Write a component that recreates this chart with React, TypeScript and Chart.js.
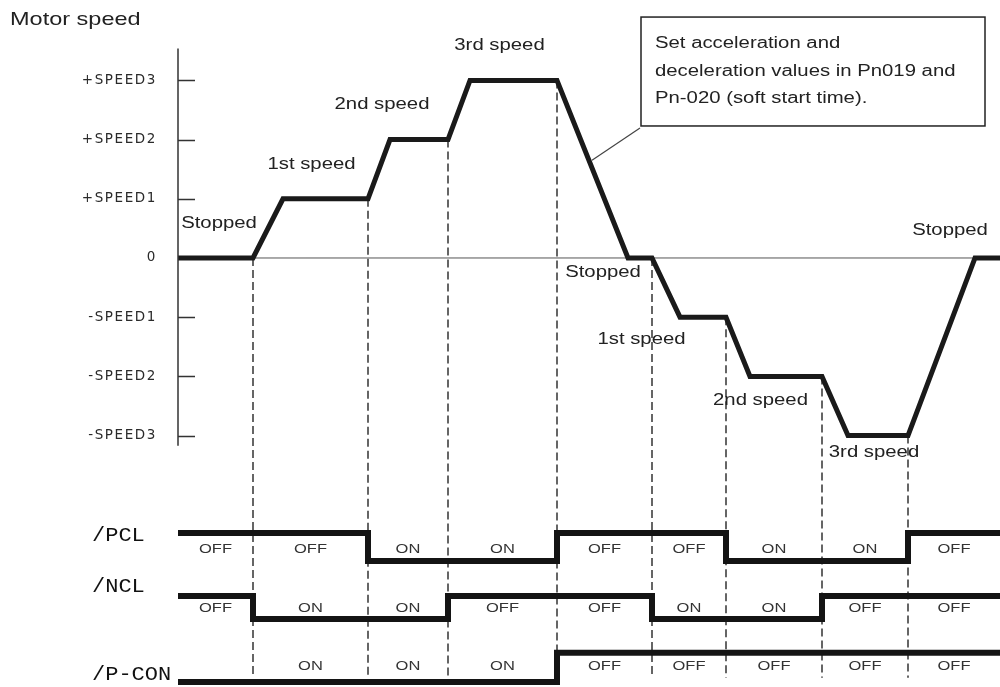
import React, { useEffect, useRef } from 'react';
import { Chart, registerables } from 'chart.js';

Chart.register(...registerables);

// ---------- data ----------
const speedTickValues = [-3, -2, -1, 0, 1, 2, 3];
const speedTickLabels = ['-SPEED3', '-SPEED2', '-SPEED1', '0', '+SPEED1', '+SPEED2', '+SPEED3'];

// motor speed profile (time units, speed steps)
const speedTimes = [0, 7.5, 10.5, 19, 21.2, 27, 29.2, 37.9, 45, 47.4, 50.2, 54.8, 57.2, 64.4, 67, 73, 79.7, 82.2];
const speedValues = [0, 0, 1, 1, 2, 2, 3, 3, 0, 0, -1, -1, -2, -2, -3, -3, 0, 0];

// switching instants (dashed lines) and the speed where each dashed line begins
const switchTimes = [7.5, 19, 27, 37.9, 47.4, 54.8, 64.4, 73];
const switchSpeeds = [0, 1, 2, 3, 0, -1, -2, -3];
const startTime = 0;
const endTime = 82.2;

// input signal states per segment
const signalNames = ['/PCL', '/NCL', '/P-CON'];
const pclStates = ['OFF', 'OFF', 'ON', 'ON', 'OFF', 'OFF', 'ON', 'ON', 'OFF'];
const nclStates = ['OFF', 'ON', 'ON', 'OFF', 'OFF', 'ON', 'ON', 'OFF', 'OFF'];
const pconStates = ['', 'ON', 'ON', 'ON', 'OFF', 'OFF', 'OFF', 'OFF', 'OFF'];
const signalHighLevels = [5.32, 3.07, 1.04];
const signalLowLevels = [4.32, 2.25, 0];

// phase labels on the speed plot
const phaseLabels = ['Stopped', '1st speed', '2nd speed', '3rd speed', 'Stopped', '1st speed', '2nd speed', '3rd speed', 'Stopped'];

const noteLines = ['Set acceleration and', 'deceleration values in Pn019 and', 'Pn-020 (soft start time).'];

// ---------- layout of annotations (in scale units) ----------
const phaseLabelAnchors = [
  [4.1, 0.574], [13.35, 1.571], [20.4, 2.584], [32.15, 3.581], [42.5, -0.253],
  [46.35, -1.385], [58.25, -2.416], [69.6, -3.294], [77.2, 0.456],
];
const signalLabelLevels = [4.75, 2.61, 0.57];
const signalNameLevels = [5.21, 3.39, 0.25];

const SX = 1.27; // horizontal text stretch of the original drawing
const SANS = '"Liberation Sans", Arial, sans-serif';

function drawText(ctx: CanvasRenderingContext2D, text: string, x: number, y: number, font: string, align: CanvasTextAlign, sx: number, color = '#222') {
  ctx.save();
  ctx.letterSpacing = '0px';
  ctx.font = font;
  ctx.fillStyle = color;
  ctx.textBaseline = 'middle';
  ctx.textAlign = align;
  ctx.translate(x, y);
  ctx.scale(sx, 1);
  ctx.fillText(text, 0, 0);
  ctx.restore();
}

const segBounds = [startTime, ...switchTimes, endTime];
const signalStates = [pclStates, nclStates, pconStates];

function signalPoints(states: string[], hi: number, lo: number) {
  const lvl = (s: string) => (s === 'OFF' ? hi : lo);
  const pts = states.map((s, i) => ({ x: segBounds[i], y: lvl(s) }));
  pts.push({ x: endTime, y: lvl(states[states.length - 1]) });
  return pts;
}

const diagramPlugin = {
  id: 'diagram',
  beforeDraw(chart: any) {
    chart.ctx.letterSpacing = '1.6px';
  },
  beforeDatasetsDraw(chart: any) {
    const ctx = chart.ctx as CanvasRenderingContext2D;
    const xs = chart.scales.x;
    const ys = chart.scales.ys;
    signalStates.forEach((states, k) => {
      states.forEach((s, i) => {
        if (!s) return;
        const cx = xs.getPixelForValue((segBounds[i] + segBounds[i + 1]) / 2);
        drawText(ctx, s, cx, ys.getPixelForValue(signalLabelLevels[k]), `13px ${SANS}`, 'center', SX, '#333');
      });
    });
  },
  afterDatasetsDraw(chart: any) {
    const ctx = chart.ctx as CanvasRenderingContext2D;
    const xs = chart.scales.x;
    const y = chart.scales.y;
    const ys = chart.scales.ys;
    const left = chart.chartArea.left;

    // speed axis line and inner tick stubs
    ctx.save();
    ctx.strokeStyle = '#333';
    ctx.lineWidth = 1.5;
    ctx.beginPath();
    ctx.moveTo(left, y.getPixelForValue(3.54));
    ctx.lineTo(left, y.getPixelForValue(-3.17));
    speedTickValues.forEach((v) => {
      if (v === 0) return;
      const py = Math.round(y.getPixelForValue(v)) + 0.5;
      ctx.moveTo(left, py);
      ctx.lineTo(left + 17, py);
    });
    ctx.stroke();
    ctx.restore();

    // title
    drawText(ctx, 'Motor speed', xs.getPixelForValue(-16.8), y.getPixelForValue(4.02), `18.5px ${SANS}`, 'left', SX);

    // phase labels
    phaseLabels.forEach((t, i) => {
      const [tx, ty] = phaseLabelAnchors[i];
      drawText(ctx, t, xs.getPixelForValue(tx), y.getPixelForValue(ty), `16px ${SANS}`, 'center', SX);
    });

    // signal names
    signalNames.forEach((n, i) => {
      drawText(ctx, n, xs.getPixelForValue(-8.6), ys.getPixelForValue(signalNameLevels[i]), '20px "Liberation Mono", monospace', 'left', 1.1, '#111');
    });

    // note box with leader
    const bx0 = xs.getPixelForValue(46.3), bx1 = xs.getPixelForValue(80.7);
    const by0 = y.getPixelForValue(4.07), by1 = y.getPixelForValue(2.23);
    ctx.save();
    ctx.fillStyle = '#fff';
    ctx.strokeStyle = '#222';
    ctx.lineWidth = 1.5;
    ctx.fillRect(bx0, by0, bx1 - bx0, by1 - by0);
    ctx.strokeRect(bx0, by0, bx1 - bx0, by1 - by0);
    ctx.lineWidth = 1.2;
    ctx.strokeStyle = '#444';
    ctx.beginPath();
    ctx.moveTo(xs.getPixelForValue(46.2), y.getPixelForValue(2.195));
    ctx.lineTo(xs.getPixelForValue(41.4), y.getPixelForValue(1.65));
    ctx.stroke();
    ctx.restore();
    const lineLevels = [3.615, 3.142, 2.686];
    noteLines.forEach((l, i) => {
      drawText(ctx, l, xs.getPixelForValue(47.7), y.getPixelForValue(lineLevels[i]), `16px ${SANS}`, 'left', SX);
    });
  },
  afterDraw(chart: any) {
    chart.ctx.letterSpacing = '0px';
  },
};

export default function App() {
  const canvasRef = useRef<HTMLCanvasElement | null>(null);

  useEffect(() => {
    const canvas = canvasRef.current;
    if (!canvas) return;

    const dashedSets = switchTimes.map((t, i) => ({
      type: 'line' as const,
      data: [{ x: t, y: switchSpeeds[i] }, { x: t, y: -7.09 }],
      borderColor: '#333',
      borderWidth: 1.5,
      borderDash: [8, 4],
      pointRadius: 0,
      yAxisID: 'y',
      order: 5,
    }));

    const chart = new Chart(canvas, {
      type: 'line',
      data: {
        datasets: [
          {
            data: [{ x: startTime, y: 0 }, { x: endTime, y: 0 }],
            borderColor: '#555',
            borderWidth: 1,
            pointRadius: 0,
            yAxisID: 'y',
            order: 6,
          },
          ...dashedSets,
          {
            data: speedTimes.map((t, i) => ({ x: t, y: speedValues[i] })),
            borderColor: '#1a1a1a',
            borderWidth: 5,
            borderJoinStyle: 'miter',
            pointRadius: 0,
            tension: 0,
            yAxisID: 'y',
            order: 1,
          },
          ...signalStates.map((st, k) => ({
            data: signalPoints(st, signalHighLevels[k], signalLowLevels[k]),
            borderColor: '#141414',
            borderWidth: 6,
            borderJoinStyle: 'miter' as const,
            borderCapStyle: 'round' as const,
            stepped: 'before' as const,
            pointRadius: 0,
            yAxisID: 'ys',
            order: 2,
          })),
        ],
      },
      options: {
        animation: false,
        responsive: false,
        devicePixelRatio: 1,
        layout: { padding: 0 },
        plugins: { legend: { display: false }, tooltip: { enabled: false }, title: { display: false } },
        scales: {
          x: { type: 'linear', min: startTime, max: endTime, display: false },
          y: {
            type: 'linear',
            position: 'left',
            min: -7.247,
            max: 4.358,
            grid: { display: false, drawTicks: false },
            border: { display: false },
            afterBuildTicks: (scale: any) => {
              scale.ticks = speedTickValues.map((v) => ({ value: v }));
            },
            afterFit: (scale: any) => {
              scale.width = 178;
              scale.paddingTop = 0;
              scale.paddingBottom = 0;
            },
            ticks: {
              padding: 21,
              color: '#2a2a2a',
              font: { family: '"DejaVu Sans", sans-serif', size: 13.5 },
              callback: (v: any) => {
                const i = speedTickValues.indexOf(Number(v));
                return i >= 0 ? speedTickLabels[i] : '';
              },
            },
          },
          ys: {
            type: 'linear',
            display: false,
            min: -0.179,
            max: 24.357,
          },
        },
      },
      plugins: [diagramPlugin],
    } as any);

    return () => chart.destroy();
  }, []);

  return (
    <div style={{ position: 'fixed', left: 0, top: 0, width: 1000, height: 687, background: '#fff' }}>
      <canvas ref={canvasRef} width={1000} height={687} style={{ display: 'block' }} />
    </div>
  );
}
